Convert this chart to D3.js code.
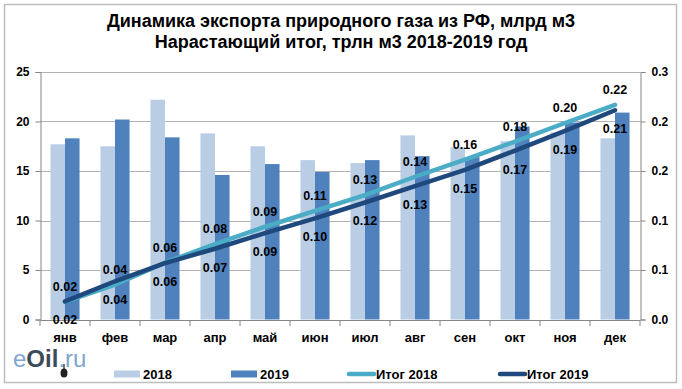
<!DOCTYPE html>
<html lang="ru">
<head>
<meta charset="UTF-8">
<title>export gas</title>
<script src="https://cdn.jsdelivr.net/npm/d3@7"></script>
<style>
    body { margin: 0; background: #fff; }
    svg { display: block; }
    .narrow { font-family: 'Liberation Sans Narrow', 'Arial Narrow', 'Liberation Sans', sans-serif; font-weight: bold; }
    .reg { font-family: 'Liberation Sans', Arial, sans-serif; font-weight: bold; }
</style>
</head>
<body>
<div id="chart"></div>
<script>
// values
var months = ["янв","фев","мар","апр","май","июн","июл","авг","сен","окт","ноя","дек"];
var exp2018 = [17.7, 17.5, 22.2, 18.8, 17.5, 16.1, 15.8, 18.6, 17.4, 18.0, 18.9, 18.3];
var exp2019 = [18.3, 20.2, 18.4, 14.6, 15.7, 14.9, 16.1, 16.5, 16.4, 19.5, 19.9, 20.9];
var total2018 = [0.0177, 0.0352, 0.0574, 0.0762, 0.0937, 0.1098, 0.1256, 0.1442, 0.1616, 0.1796, 0.1985, 0.2168];
var total2019 = [0.0183, 0.0386, 0.0569, 0.0715, 0.0872, 0.1021, 0.1182, 0.1347, 0.1511, 0.1706, 0.1905, 0.2114];
var leftTicks = [0, 5, 10, 15, 20, 25];
var rightTicks = [0, 0.05, 0.1, 0.15, 0.2, 0.25];
var rightTickLabels = ["0.0", "0.1", "0.1", "0.2", "0.2", "0.3"];
var titleLines = ["Динамика экспорта природного газа из РФ, млрд м3", "Нарастающий итог, трлн м3 2018-2019 год"];

var w = 682, h = 389;
var c18 = "#b9cde5", c19 = "#4f81bd", cT18 = "#4bacc6", cT19 = "#1f497d";

var svg = d3.select("#chart").append("svg")
    .attr("width", w).attr("height", h);

svg.append("rect")
    .attr("x", 4.5).attr("y", 4.5).attr("width", 672).attr("height", 378)
    .attr("fill", "#fff").attr("stroke", "#bdbdbd").attr("stroke-width", 1.5);

svg.selectAll(".title").data(titleLines).enter().append("text")
    .attr("class", "narrow")
    .attr("x", 341).attr("y", function(d, i) { return 27 + i * 21; })
    .attr("text-anchor", "middle")
    .style("font-size", "18px")
    .text(function(d) { return d; });

var x = d3.scaleBand().domain(months).range([40, 640]).padding(0);
var xs = d3.scaleBand().domain(["2018", "2019"]).range([0, x.bandwidth()]).paddingInner(0).paddingOuter(0.72);
var yL = d3.scaleLinear().domain([0, 25]).range([319.5, 72]);
var yR = d3.scaleLinear().domain([0, 0.25]).range([319.5, 72]);

// gridlines
svg.append("g").selectAll("line").data(leftTicks.slice(1)).enter().append("line")
    .attr("x1", 40).attr("x2", 640)
    .attr("y1", function(d) { return Math.round(yL(d)) + 0.5; })
    .attr("y2", function(d) { return Math.round(yL(d)) + 0.5; })
    .attr("stroke", "#b3b3b3").attr("stroke-width", 1);

// bars
var bars = svg.append("g");
bars.selectAll(".b18").data(exp2018).enter().append("rect")
    .attr("x", function(d, i) { return x(months[i]) + xs("2018"); })
    .attr("y", function(d) { return yL(d); })
    .attr("width", xs.bandwidth())
    .attr("height", function(d) { return yL(0) - yL(d); })
    .attr("fill", c18);
bars.selectAll(".b19").data(exp2019).enter().append("rect")
    .attr("x", function(d, i) { return x(months[i]) + xs("2019"); })
    .attr("y", function(d) { return yL(d); })
    .attr("width", xs.bandwidth())
    .attr("height", function(d) { return yL(0) - yL(d); })
    .attr("fill", c19);

// axes
var axL = svg.append("g").attr("transform", "translate(40.5,0)")
    .call(d3.axisLeft(yL).tickValues(leftTicks).tickSize(5).tickPadding(6));
var axR = svg.append("g").attr("transform", "translate(640.5,0)")
    .call(d3.axisRight(yR).tickValues(rightTicks).tickSize(5).tickPadding(6)
        .tickFormat(function(d, i) { return rightTickLabels[i]; }));
var axX = svg.append("g").attr("transform", "translate(0," + (yL(0) + 0.5) + ")")
    .call(d3.axisBottom(x).tickSize(0).tickPadding(13));
axX.selectAll(".tick").append("line")
    .attr("x1", -x.bandwidth() / 2).attr("x2", -x.bandwidth() / 2)
    .attr("y1", 0).attr("y2", 6);
axX.append("line").attr("x1", 640 - x.bandwidth() / 2).attr("x2", 640 - x.bandwidth() / 2)
    .attr("transform", "translate(" + (x.bandwidth() / 2) + ",0)")
    .attr("y1", 0).attr("y2", 6);

[axL, axR, axX].forEach(function(a) {
    a.select(".domain").attr("stroke", "#868686");
    a.selectAll("line").attr("stroke", "#868686");
    a.selectAll("text").attr("fill", "#000").style("font-size", "12px")
        .attr("class", "reg");
});
axX.selectAll("text").attr("class", "narrow").style("font-size", "13px");

// cumulative lines
var line = d3.line()
    .x(function(d, i) { return x(months[i]) + x.bandwidth() / 2; })
    .y(function(d) { return yR(d); });
svg.append("path").attr("d", line(total2018))
    .attr("fill", "none").attr("stroke", cT18).attr("stroke-width", 4.5).attr("stroke-linecap", "round");
svg.append("path").attr("d", line(total2019))
    .attr("fill", "none").attr("stroke", cT19).attr("stroke-width", 4.5).attr("stroke-linecap", "round");

// data labels
var fmt = d3.format(".2f");
svg.append("g").selectAll("text").data(total2018).enter().append("text")
    .attr("class", "reg").style("font-size", "12.5px")
    .attr("text-anchor", "middle")
    .attr("x", function(d, i) { return x(months[i]) + x.bandwidth() / 2; })
    .attr("y", function(d) { return yR(d) - 11; })
    .text(function(d) { return fmt(d); });
svg.append("g").selectAll("text").data(total2019).enter().append("text")
    .attr("class", "reg").style("font-size", "12.5px")
    .attr("text-anchor", "middle")
    .attr("x", function(d, i) { return x(months[i]) + x.bandwidth() / 2; })
    .attr("y", function(d) { return yR(d) + 23; })
    .text(function(d) { return fmt(d); });

// legend
var legend = [
    {name: "2018", color: c18, type: "bar", x: 114},
    {name: "2019", color: c19, type: "bar", x: 231},
    {name: "Итог 2018", color: cT18, type: "line", x: 347},
    {name: "Итог 2019", color: cT19, type: "line", x: 498}
];
var lg = svg.append("g").selectAll("g").data(legend).enter().append("g")
    .attr("transform", function(d) { return "translate(" + d.x + ",374)"; });
lg.filter(function(d) { return d.type === "bar"; }).append("rect")
    .attr("x", 0).attr("y", -3.5).attr("width", 26).attr("height", 7)
    .attr("fill", function(d) { return d.color; });
lg.filter(function(d) { return d.type === "line"; }).append("line")
    .attr("x1", 2).attr("x2", 27).attr("y1", 0).attr("y2", 0)
    .attr("stroke", function(d) { return d.color; })
    .attr("stroke-width", 4.5).attr("stroke-linecap", "round");
lg.append("text").attr("class", "narrow")
    .attr("x", 29).attr("y", 5)
    .style("font-size", "13px")
    .text(function(d) { return d.name; });

// logo
var logo = svg.append("text")
    .attr("x", 13).attr("y", 367)
    .style("font-family", "'Liberation Sans', Arial, sans-serif")
    .style("font-size", "24px");
logo.append("tspan").attr("fill", "#7ea6cf").text("e");
logo.append("tspan").attr("fill", "#3d4a57").attr("font-weight", "bold").text("Oil");
logo.append("tspan").attr("fill", "#7ea6cf").text(".ru");
svg.append("line").attr("x1", 64).attr("x2", 64).attr("y1", 364).attr("y2", 370)
    .attr("stroke", "#3d4a57").attr("stroke-width", 1.5);
svg.append("ellipse").attr("cx", 64).attr("cy", 373).attr("rx", 3.5).attr("ry", 4.5).attr("fill", "#222");
</script>
</body>
</html>
